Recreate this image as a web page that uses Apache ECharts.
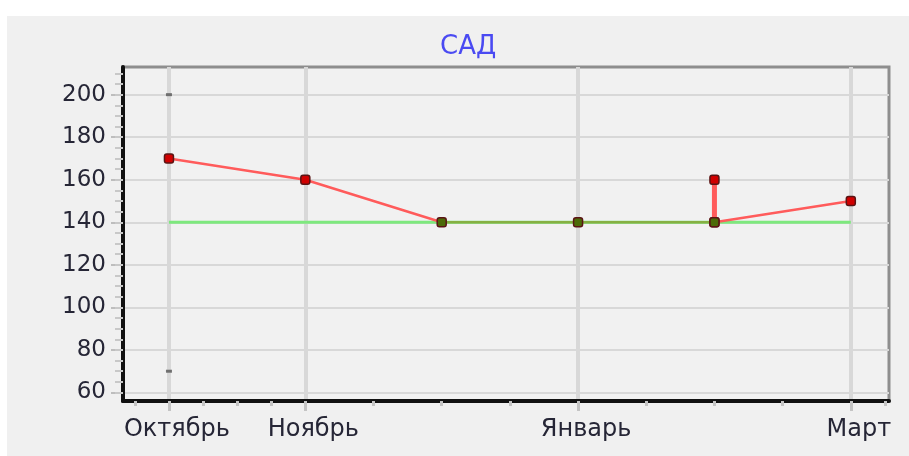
<!DOCTYPE html>
<html>
<head>
<meta charset="utf-8">
<script src="https://cdn.jsdelivr.net/npm/echarts@6/dist/echarts.min.js"></script>
<style>
  html, body { margin: 0; padding: 0; background: #fff; }
  #chart { position: absolute; left: 7px; top: 16px; width: 902px; height: 440px; }
</style>
</head>
<body>
<div id="chart"></div>
<script>
// месяцы (позиции по оси X: 0..5)
const months = ['Октябрь', 'Ноябрь', 'Декабрь', 'Январь', 'Февраль', 'Март'];
const labelIdx = [0, 1, 3, 5];              // подписанные месяцы
const sadValues = [170, 160, 140, 140, 140, 150];
const normValue = 140;
const febRange = [140, 160];                // вертикальный отрезок в феврале
const limitMarks = [200, 70];               // метки на октябре
const yLabels = [60, 80, 100, 120, 140, 160, 180, 200];
const yMinor = [60, 65, 70, 75, 80, 85, 90, 95, 100, 105, 110, 115, 120, 125, 130, 135,
                140, 145, 150, 155, 160, 165, 170, 175, 180, 185, 190, 195, 200, 205, 210];
const xMinor = [-0.25, 0.25, 0.5, 0.75, 1.5, 2, 2.5, 3.5, 4, 4.5, 5.25];

const X_MIN = -0.337, X_MAX = 5.28, Y_MIN = 56, Y_MAX = 213;

var myChart = echarts.init(document.getElementById('chart'));

const red = '#ff5b5b';
const olive = '#86b043';

let option = {
    backgroundColor: '#f0f0f0',
    animation: false,
    title: {
        text: 'САД',
        left: 428,
        top: 13,
        textStyle: { color: '#4a4af2', fontSize: 26, fontWeight: 'normal', fontFamily: 'DejaVu Sans' }
    },
    grid: {
        left: 116, right: 20, top: 51, bottom: 55,
        show: true,
        backgroundColor: '#f1f1f1',
        borderColor: '#8e8e8e',
        borderWidth: 3
    },
    xAxis: [{
        type: 'value',
        min: X_MIN, max: X_MAX,
        axisLine: { onZero: false, lineStyle: { color: '#111', width: 4 } },
        axisTick: { customValues: labelIdx, length: 10, lineStyle: { color: '#c4c4c4', width: 3 } },
        axisLabel: {
            customValues: labelIdx,
            formatter: v => months[Math.round(v)],
            margin: 17,
            padding: [0, 0, 0, 16],
            color: '#262636',
            fontSize: 24,
            fontFamily: 'DejaVu Sans'
        },
        splitLine: { show: true, lineStyle: { color: '#d8d8d8', width: 4 } }
    }, {
        type: 'value',
        position: 'bottom',
        min: X_MIN, max: X_MAX,
        axisLine: { show: false, onZero: false },
        axisTick: { customValues: xMinor, length: 5, lineStyle: { color: '#c4c4c4', width: 3 } },
        axisLabel: { show: false },
        splitLine: { show: false }
    }],
    yAxis: [{
        type: 'value',
        min: Y_MIN, max: Y_MAX,
        axisLine: { show: true, onZero: false, lineStyle: { color: '#111', width: 4 } },
        axisTick: { show: true, customValues: yLabels, length: 12, lineStyle: { color: '#bdbdbd', width: 2 } },
        axisLabel: {
            customValues: yLabels,
            margin: 17,
            color: '#262636',
            fontSize: 23,
            fontFamily: 'DejaVu Sans'
        },
        splitLine: { show: true, lineStyle: { color: '#d8d8d8', width: 2 } }
    }, {
        type: 'value',
        position: 'left',
        min: Y_MIN, max: Y_MAX,
        axisLine: { show: false, onZero: false },
        axisTick: { show: true, customValues: yMinor, length: 8, lineStyle: { color: '#c8c8c8', width: 2 } },
        axisLabel: { show: false },
        splitLine: { show: false }
    }],
    series: [{
        name: 'норма',
        type: 'line',
        data: [[0, normValue], [months.length - 1, normValue]],
        symbol: 'none',
        lineStyle: { color: '#7ee87e', width: 3 },
        z: 2
    }, {
        name: 'САД',
        type: 'line',
        data: sadValues.map((v, i) => [i, v]),
        symbol: 'roundRect',
        symbolSize: 9,
        lineStyle: {
            width: 2.5,
            color: {
                type: 'linear', x: 0, y: 0, x2: 1, y2: 0,
                colorStops: [
                    { offset: 0, color: red }, { offset: 0.4, color: red },
                    { offset: 0.4, color: olive }, { offset: 0.8, color: olive },
                    { offset: 0.8, color: red }, { offset: 1, color: red }
                ]
            }
        },
        itemStyle: {
            color: p => (p.value[1] <= normValue && p.dataIndex > 0 && p.dataIndex < 5) ? '#4c6a08' : '#d00000',
            borderColor: '#5a1414',
            borderWidth: 1.5
        },
        z: 3
    }, {
        name: 'диапазон',
        type: 'line',
        data: febRange.map(v => [4, v]),
        symbol: 'roundRect',
        symbolSize: 9,
        lineStyle: { color: red, width: 5 },
        itemStyle: {
            color: p => p.value[1] <= normValue ? '#4c6a08' : '#d00000',
            borderColor: '#5a1414',
            borderWidth: 1.5
        },
        z: 4
    }, {
        name: 'пределы',
        type: 'scatter',
        data: limitMarks.map(v => [0, v]),
        symbol: 'rect',
        symbolSize: [6, 3],
        itemStyle: { color: '#555' },
        z: 4
    }]
};

myChart.setOption(option);
</script>
</body>
</html>
